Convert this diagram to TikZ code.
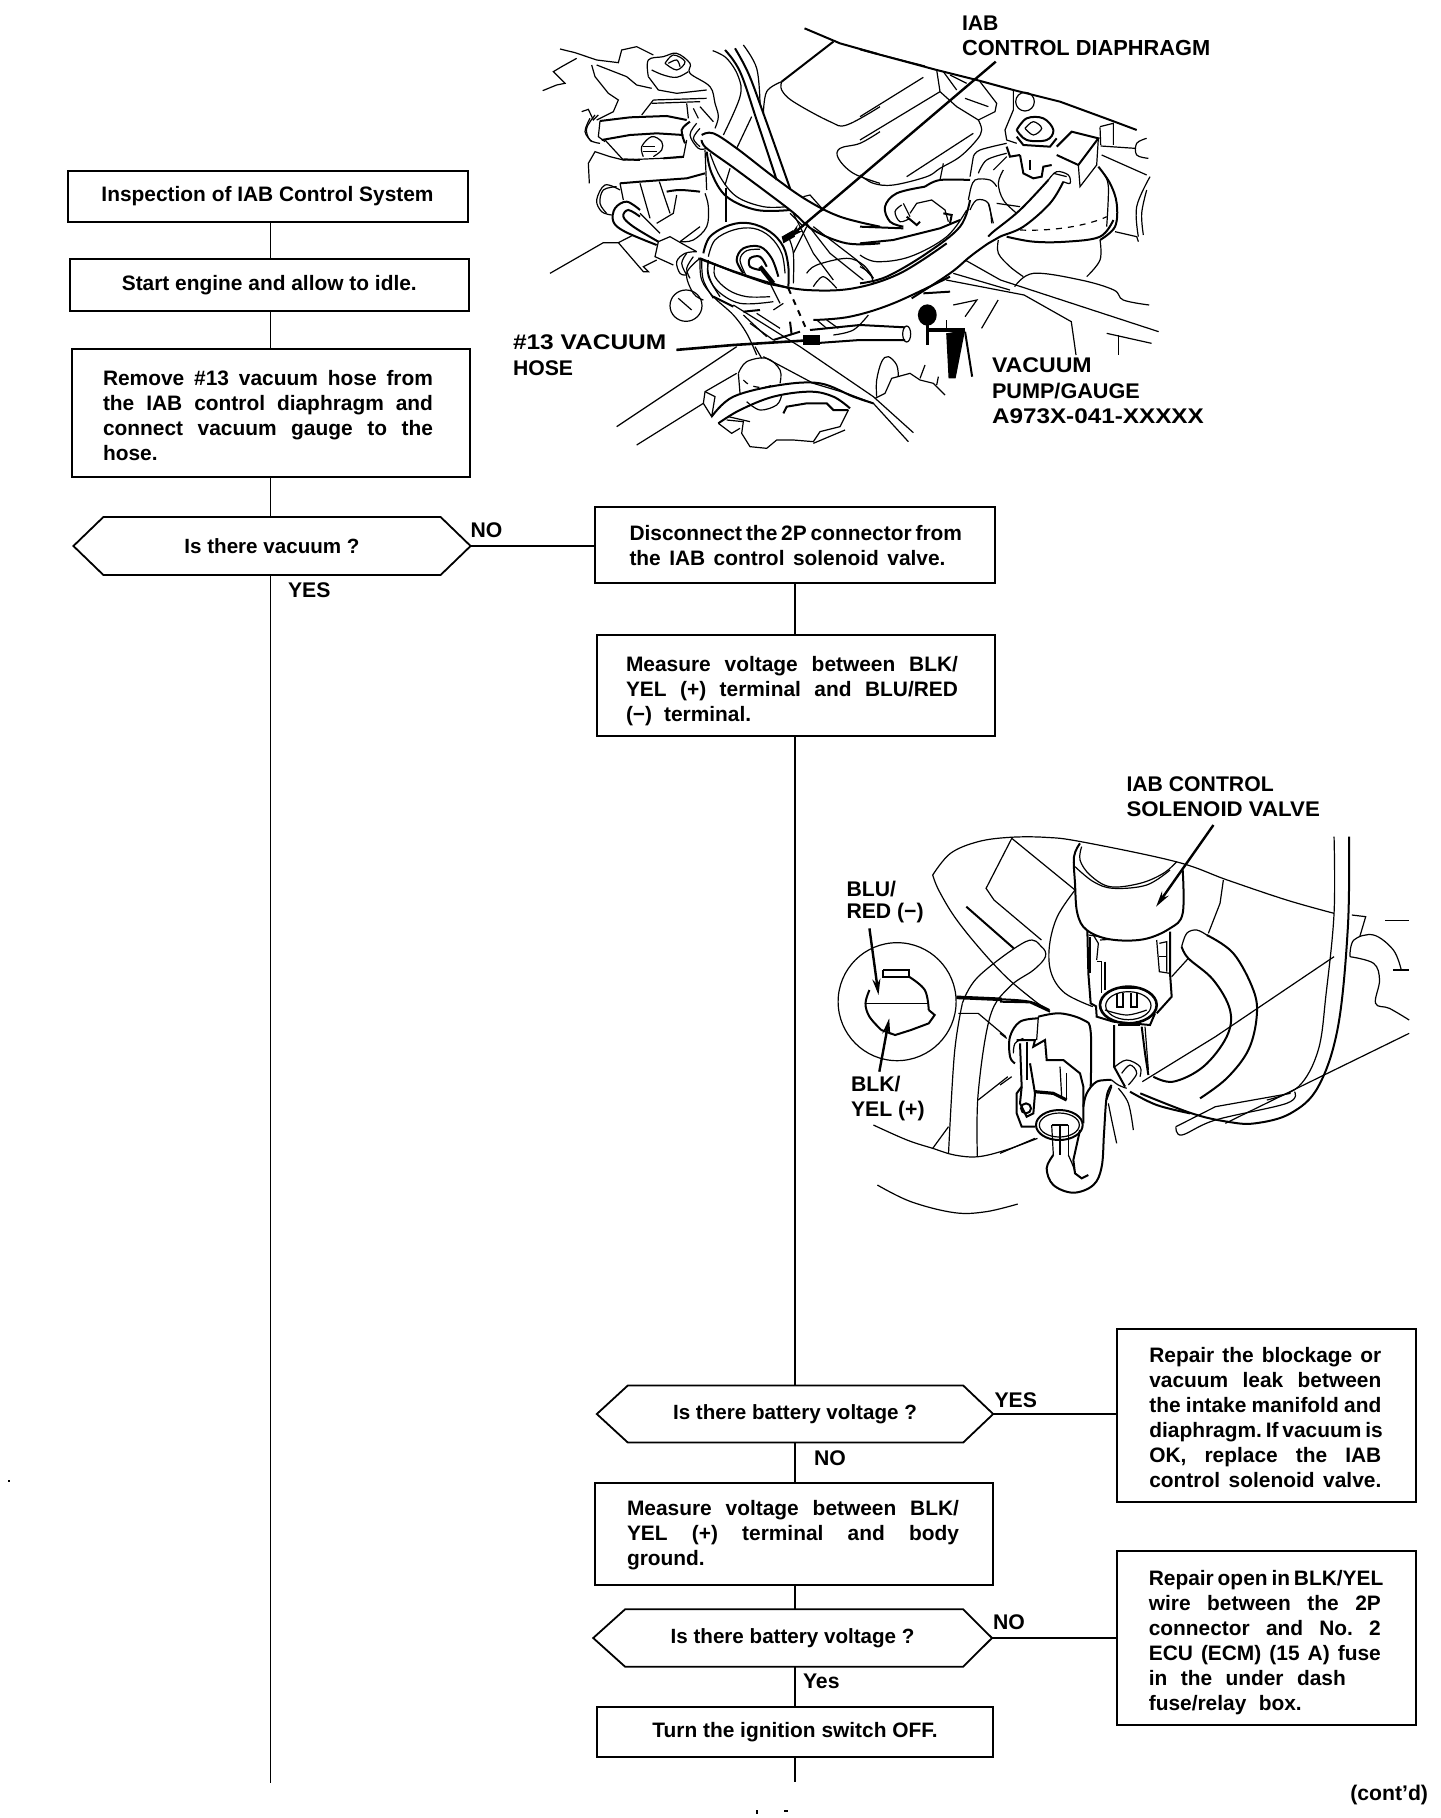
\documentclass[tikz,border=0pt]{standalone}
\usepackage{fontspec}
\usepackage{graphicx}
\setmainfont{Liberation Sans}
\usetikzlibrary{arrows.meta}
\newlength{\jw}
\newcommand{\jl}[1]{\makebox[\jw][s]{\spaceskip=0pt\xspaceskip=0pt\frenchspacing #1}}
\newcommand{\jn}[1]{{\spaceskip=0pt\xspaceskip=0pt\frenchspacing #1}}
\newcommand{\js}[2]{\makebox[#1pt][s]{\spaceskip=0pt\xspaceskip=0pt\frenchspacing #2}}
\newcommand{\cv}[1]{\draw[ln] plot[smooth,tension=0.6] coordinates {#1};}
\newcommand{\cvt}[1]{\draw[lnt] plot[smooth,tension=0.6] coordinates {#1};}
\newcommand{\pl}[1]{\draw[ln] plot[sharp plot] coordinates {#1};}
\newcommand{\plt}[1]{\draw[lnt] plot[sharp plot] coordinates {#1};}
\tikzset{
  box/.style={draw,line width=1pt,inner sep=0pt,outer sep=0pt,font=\fontsize{10.45}{12.5}\selectfont\bfseries},
  jbox/.style={box,align=left,text width=#1},
  qn/.style={inner sep=0pt,outer sep=0pt,font=\fontsize{10.3}{12.5}\selectfont\bfseries},
  lab/.style={inner sep=0pt,outer sep=0pt,anchor=west,font=\fontsize{10.6}{12.5}\selectfont\bfseries},
  con/.style={line width=0.8pt},
  hexl/.style={line width=0.9pt,line join=miter},
  ln/.style={line width=0.6pt},
  lnt/.style={line width=1pt},
  pointer/.style={line width=1.2pt,-{Stealth[length=8pt,width=4pt]}}
}
\begin{document}
\begin{tikzpicture}[x=0.5pt,y=-0.5pt]
\useasboundingbox (0,0) rectangle (1440,1818);
\fill[white] (0,0) rectangle (1440,1818);
\coordinate (spa) at (270.5,0);
\coordinate (spb) at (795,0);
\coordinate (enda) at (270.5,1783);
\coordinate (endb) at (795,1782);

% left column
\node[box,minimum width=200pt,minimum height=25.5pt] (b1) at (267.5,196.5) {Inspection of IAB Control System};
\node[box,minimum width=199.3pt,minimum height=26pt] (b2) at (269.3,285) {\raisebox{-1pt}{Start engine and allow to idle.}};
\setlength{\jw}{165pt}
\node[jbox=168pt,minimum width=199pt,minimum height=63.7pt] (b3) at (271,413) {\rule{0pt}{9.9pt}\jl{Remove \#13 vacuum hose from}\\\jl{the IAB control diaphragm and}\\\jl{connect vacuum gauge to the}\\\jn{hose.}};
\node[qn,minimum width=198.6pt,minimum height=29pt] (q1) at (272,546) {Is there vacuum ?};
\draw[hexl] (q1.west) -- ([xshift=15pt]q1.north west) -- ([xshift=-15pt]q1.north east) -- (q1.east) -- ([xshift=-15pt]q1.south east) -- ([xshift=15pt]q1.south west) -- cycle;
\node[lab] (lno1) at (470.5,530) {NO};
\node[lab] (lyes1) at (288,590) {YES};

% middle column
\setlength{\jw}{165.5pt}
\node[jbox=165.5pt,minimum width=200pt,minimum height=38pt] (d1) at (795,545) {\rule{0pt}{8.6pt}\jl{Disconnect the 2P connector from}\\\js{158}{the IAB control solenoid valve.}};
\setlength{\jw}{166pt}
\node[jbox=170pt,minimum width=199pt,minimum height=50.5pt] (m1) at (796,685.5) {\rule{0pt}{13.4pt}\jl{Measure voltage between BLK/}\\\jl{YEL (+) terminal and BLU/RED}\\\js{62.6}{(−) terminal.}};
\node[qn,minimum width=198.2pt,minimum height=28.5pt] (q2) at (795,1414) {\raisebox{-1pt}{Is there battery voltage ?}};
\draw[hexl] (q2.west) -- ([xshift=15.5pt]q2.north west) -- ([xshift=-15pt]q2.north east) -- (q2.east) -- ([xshift=-15pt]q2.south east) -- ([xshift=15.5pt]q2.south west) -- cycle;
\node[lab] (lyes2) at (994.5,1400) {YES};
\node[lab] (lno2) at (814,1458) {NO};
\node[jbox=167pt,minimum width=199pt,minimum height=51pt] (m2) at (794,1534) {\rule{0pt}{9pt}\jl{Measure voltage between BLK/}\\\jl{YEL (+) terminal and body}\\\jn{ground.}};
\node[qn,minimum width=199.4pt,minimum height=28.8pt] (q3) at (792.6,1638) {\raisebox{-1pt}{Is there battery voltage ?}};
\draw[hexl] (q3.west) -- ([xshift=16pt]q3.north west) -- ([xshift=-14.5pt]q3.north east) -- (q3.east) -- ([xshift=-14.5pt]q3.south east) -- ([xshift=16pt]q3.south west) -- cycle;
\node[lab] (lno3) at (993,1622) {NO};
\node[lab] (lyes3) at (803,1681) {Yes};
\node[box,minimum width=198.2pt,minimum height=25pt] (t1) at (795,1731.7) {\raisebox{-1pt}{Turn the ignition switch OFF.}};

% right column
\setlength{\jw}{116pt}
\node[jbox=117pt,minimum width=149.7pt,minimum height=86.4pt] (r1) at (1266.3,1415.4) {\rule{0pt}{9.9pt}\jl{Repair the blockage or}\\\jl{vacuum leak between}\\\jl{the intake manifold and}\\\jl{diaphragm. If vacuum is}\\\jl{OK, replace the IAB}\\\jl{control solenoid valve.}};
\node[jbox=117.5pt,minimum width=149.7pt,minimum height=87.2pt] (r2) at (1266.3,1638) {\rule{0pt}{12.2pt}\jl{Repair open in BLK/YEL}\\\jl{wire between the 2P}\\\jl{connector and No. 2}\\\jl{ECU (ECM) (15 A) fuse}\\\js{98.5}{in the under dash}\\\js{76.5}{fuse/relay box.}};
\node[inner sep=0pt,outer sep=0pt,anchor=east,font=\fontsize{10.6}{12.5}\selectfont\bfseries] (cd) at (1428,1795) {(cont'd)};

% connectors
\draw[con] (b1.south -| spa) -- (b2.north -| spa);
\draw[con] (b2.south -| spa) -- (b3.north -| spa);
\draw[con] (b3.south -| spa) -- (q1.north -| spa);
\draw[con] (q1.south -| spa) -- (enda);
\draw[con] (q1.east) -- (q1.east -| d1.west);
\draw[con] (d1.south -| spb) -- (m1.north -| spb);
\draw[con] (m1.south -| spb) -- (q2.north -| spb);
\draw[con] (q2.south -| spb) -- (m2.north -| spb);
\draw[con] (m2.south -| spb) -- (q3.north -| spb);
\draw[con] (q3.south -| spb) -- (t1.north -| spb);
\draw[con] (t1.south -| spb) -- (endb);
\draw[con] (q2.east) -- (q2.east -| r1.west);
\draw[con] (q3.east) -- (q3.east -| r2.west);

% labels of drawings
\node[lab] (a1) at (962,23) {IAB};
\node[lab,font=\fontsize{10.9}{12.5}\selectfont\bfseries] (a2) at (962,48) {CONTROL DIAPHRAGM};
\node[lab] (a3) at (513,342.5) {\scalebox{1.155}[1]{\#13 VACUUM}};
\node[lab] (a4) at (513,368) {HOSE};
\node[lab] (a5) at (992,365) {\scalebox{1.09}[1]{VACUUM}};
\node[lab] (a6) at (992,391) {\scalebox{1.02}[1]{PUMP/GAUGE}};
\node[lab] (a7) at (992,416) {\scalebox{1.145}[1]{A973X-041-XXXXX}};
\node[lab] (c1) at (1126.5,784) {IAB CONTROL};
\node[lab] (c2) at (1126.5,809) {\scalebox{1.05}[1]{SOLENOID VALVE}};
\node[lab] (c3) at (846.5,889.5) {BLU/};
\node[lab] (c4) at (846.5,913) {RED (−)};
\node[lab] (c5) at (851,1084) {BLK/};
\node[lab] (c6) at (851,1111) {YEL (+)};

% specks
\fill (8,1480) rectangle (10,1482);
\fill (756,1810) rectangle (758,1814);
\fill (784,1810) rectangle (788,1812);

% ---------- top drawing, left part
\begin{scope}[shift={(530,40)},x=0.16667pt,y=-0.16667pt]
\pl{(90,27)(135,38)(200,60)(265,68)(275,30)(320,20)(370,45)}
\pl{(38,152)(80,135)(105,130)(70,95)(95,80)(140,55)}
\pl{(185,75)(195,110)(235,160)(265,180)(250,215)(200,240)}
\pl{(155,215)(175,208)(190,240)(205,225)}
\pl{(200,75)(290,110)(320,135)(365,145)}
\cv{(355,110)(355,60)(400,50)(440,40)(480,70)(480,100)(540,140)(555,190)(565,230)(555,265)}
\cv{(405,70)(430,45)(465,65)(440,90)(405,70)}
\cv{(415,70)(440,60)(450,80)}
\cv{(365,90)(400,105)(440,112)(475,95)}
\pl{(355,110)(385,150)(440,160)(530,150)}
\pl{(370,180)(530,175)}
\pl{(365,190)(510,185)}
\pl{(370,180)(335,225)}
\pl{(470,190)(475,235)}
\pl{(490,205)(505,235)}
\pl{(510,200)(550,245)}
\plt{(210,243)(300,232)(410,228)(470,240)}
\plt{(215,300)(300,285)(380,280)(460,285)}
\pl{(210,243)(205,290)(225,305)}
\cv{(195,225)(170,265)(180,300)(210,310)}
\cv{(180,235)(165,275)(185,305)}
\pl{(225,300)(280,360)(460,352)(470,300)}
\plt{(280,358)(330,360)}
\plt{(400,355)(460,350)}
\cv{(340,350)(335,320)(365,290)(395,305)(395,330)(370,350)}
\pl{(340,320)(375,320)}
\pl{(340,335)(380,335)}
\pl{(178,430)(175,370)(195,335)(240,350)(280,360)}
\cvt{(480,245)(455,270)(465,310)}
\cv{(500,250)(480,285)(505,325)(530,325)}
\cv{(510,265)(490,295)(510,320)}
% hose from joint
\cvt{(515,285)(550,280)(620,325)(730,410)(830,480)(930,530)(1050,560)}
\cvt{(515,300)(530,325)(620,390)(780,510)(850,570)(950,610)(1050,610)}
\cvt{(530,335)(545,400)(590,470)(680,510)(780,510)}
\cv{(540,340)(570,410)(620,470)(700,500)(770,500)}
\pl{(525,330)(530,450)}
\cv{(525,460)(535,500)(530,560)(490,600)(450,605)}
% tubes at top
\cv{(548,32)(590,55)(625,110)(630,170)(580,285)}
\cvt{(585,30)(630,95)(680,240)(740,420)}
\cvt{(615,25)(655,100)(700,220)(780,445)}
\cv{(640,15)(680,85)(690,190)}
\pl{(665,230)(620,325)}
\pl{(600,385)(585,435)}
\pl{(588,445)(588,545)}
% cover
\plt{(910,5)(755,125)}
\cv{(755,125)(710,155)(700,225)}
\cv{(755,125)(755,150)(790,185)(900,245)(950,255)(1050,200)}
\cv{(1050,275)(990,310)(930,325)(925,355)(970,400)(1050,430)}
\pl{(820,470)(840,465)(880,510)(860,520)}
% bracket and lower left hose
\plt{(270,430)(330,425)(470,415)(525,400)}
\pl{(270,430)(280,480)}
\pl{(330,430)(360,535)}
\pl{(388,425)(420,520)}
\cvt{(410,455)(450,450)(510,455)}
\pl{(440,465)(430,520)(380,550)}
\cv{(270,450)(225,435)(200,480)(215,515)(245,525)}
\cv{(260,440)(220,450)(210,490)(230,520)}
\cvt{(330,510)(290,485)(255,505)(250,545)(285,575)(380,615)}
\cvt{(330,530)(295,510)(280,530)(310,560)(385,605)}
\pl{(330,520)(390,580)}
\pl{(60,700)(220,608)(265,608)(340,695)(355,695)(340,680)(380,660)}
\pl{(265,608)(310,585)}
\pl{(385,605)(420,590)(455,610)(500,635)}
\pl{(385,605)(375,650)(430,675)}
\pl{(450,605)(510,560)}
\cv{(500,635)(465,640)(440,665)(450,700)(470,705)}
\cv{(470,640)(455,670)(470,705)}
\cv{(490,650)(470,685)(480,715)}
\cvt{(505,655)(600,690)(690,720)(780,745)}
% diaphragm
\cvt{(520,640)(540,590)(600,555)(660,550)(720,575)(760,620)(775,680)(775,740)}
\cv{(535,650)(555,600)(610,570)(670,565)(720,590)(755,640)(765,700)}
\cv{(510,655)(470,700)(490,760)(520,780)}
\cv{(535,665)(535,710)(570,770)}
\cv{(515,660)(520,720)(550,775)}
\cvt{(640,700)(620,660)(640,625)(690,620)(725,655)(745,710)}
\cv{(650,710)(630,660)(650,632)(690,628)}
\cvt{(690,690)(660,680)(660,655)(690,650)(710,680)}
\draw[line width=2.2pt] (690,680) -- (730,730);
\fill (755,590) -- (790,570) -- (795,590) -- (760,610) -- cycle;
\cv{(790,640)(830,560)}
\pl{(820,560)(780,520)}
\pl{(790,520)(850,640)(910,720)}
\pl{(830,550)(900,640)(1000,720)}
\pl{(850,560)(980,660)(1030,715)}
\cv{(830,700)(860,675)(950,655)(1000,675)(1030,715)}
\cv{(850,740)(880,710)(920,745)}
\cv{(775,590)(790,640)(790,730)}
\end{scope}

% ---------- top drawing, right part
\begin{scope}[shift={(860,40)},x=0.16667pt,y=-0.16667pt]
\plt{(0,28)(100,55)(230,90)(350,120)(460,150)(600,185)(750,240)(830,270)}
\pl{(230,90)(240,155)(290,200)(355,240)}
\cv{(355,240)(365,270)(350,300)(300,350)(240,385)(200,410)(100,435)(40,430)(0,405)}
\pl{(250,95)(290,150)}
\pl{(270,105)(320,130)}
\pl{(360,125)(410,190)(405,215)(355,240)}
\pl{(315,175)(385,200)}
\pl{(0,230)(190,112)}
\pl{(0,300)(240,155)}
\pl{(140,410)(340,280)}
\draw[ln] (495,185) circle (28);
\pl{(460,150)(460,210)(435,270)(440,300)(470,310)}
\cvt{(470,270)(500,235)(550,235)(580,270)(560,300)(500,300)(470,270)}
\cv{(495,265)(520,245)(545,265)(520,285)(495,265)}
\plt{(470,290)(490,315)(570,320)(590,295)}
\plt{(590,320)(635,275)(715,295)(655,375)(590,345)}
\pl{(655,375)(660,440)(710,375)(715,295)}
\pl{(720,260)(760,250)(760,315)}
\pl{(720,262)(722,315)}
\pl{(722,318)(825,325)}
\cv{(860,295)(830,310)(830,345)(865,355)}
\pl{(725,345)(860,405)}
\cv{(870,410)(830,500)(835,590)}
\cv{(860,450)(845,520)(850,585)}
\pl{(765,575)(830,590)(835,605)}
\plt{(480,345)(490,400)(520,415)(545,410)(550,380)(575,375)}
\pl{(510,360)(510,390)}
\plt{(440,320)(450,350)(480,345)}
\pl{(400,390)(440,350)}
\cvt{(715,380)(750,430)(770,490)(765,560)(720,600)}
\cv{(730,400)(745,440)(740,560)}
\cv{(430,390)(415,430)(430,480)(470,520)}
\pl{(410,490)(480,500)}
\draw[ln,dashed] (480,570) .. controls (600,575) and (700,550) .. (740,530);
\cvt{(440,590)(520,605)(620,605)(720,590)(760,540)}
\cv{(415,600)(415,640)(450,680)(490,710)}
\cv{(720,600)(720,660)(680,710)}
% hoses
\cvt{(565,420)(480,510)(400,575)(385,590)}
\cvt{(610,425)(570,490)(490,560)(420,590)(385,610)(330,650)(270,700)(155,775)}
\cvt{(330,480)(300,560)(200,640)(80,710)(0,730)}
\cv{(330,455)(345,420)(390,420)(410,440)}
\cv{(330,510)(350,480)(385,490)(395,550)}
\pl{(385,490)(400,550)}
\pl{(330,455)(325,480)}
\cv{(565,420)(590,395)(625,405)(630,430)(610,425)}
\cv{(580,400)(620,410)}
% left loop
\cvt{(195,440)(110,460)(75,500)(90,545)(130,560)}
\cv{(125,495)(105,515)(120,545)(150,535)}
\pl{(130,490)(150,530)}
\pl{(150,520)(170,490)(215,480)(255,510)(265,545)}
\plt{(140,530)(170,555)(180,545)}
\plt{(250,520)(275,525)(270,550)}
\cvt{(195,440)(240,420)(330,420)}
\pl{(250,370)(240,420)}
\cv{(340,350)(360,330)(440,310)}
\pl{(340,350)(330,410)}
\cv{(355,400)(380,360)(440,340)}
\plt{(0,560)(130,565)}
\plt{(0,610)(100,600)(240,565)(300,540)}
\cv{(0,645)(50,665)(150,650)(260,590)(320,510)}
\cv{(0,680)(30,700)(40,730)}
\end{scope}

% ---------- top drawing, lower part
\begin{scope}[shift={(600,240)},x=0.16667pt,y=-0.16667pt]
\draw[ln] (258,197) ellipse (48 and 47);
\pl{(235,175)(275,210)}
\cv{(300,60)(305,120)(340,170)(400,225)(440,280)(470,345)}
\plt{(340,170)(400,200)}
\cv{(345,70)(345,110)(385,150)(440,170)(510,170)}
\cv{(325,60)(325,100)(350,150)(420,190)(520,185)}
\plt{(300,55)(400,95)(500,130)}
\draw[lnt,dashed] (565,145) -- (620,270);
\pl{(510,130)(540,190)}
\cvt{(500,130)(620,150)(760,145)(900,100)(1040,10)}
% long diagonals
\pl{(400,195)(600,320)(820,470)(940,578)}
\pl{(490,350)(640,430)(740,460)(820,490)(925,605)}
\cvt{(335,530)(400,470)(540,435)(660,430)(760,470)(820,490)}
\cvt{(355,550)(420,510)(520,470)(630,455)(700,470)(750,505)}
\pl{(50,560)(410,320)}
\pl{(110,615)(310,490)(315,455)(410,400)}
\pl{(310,490)(335,530)(345,470)(315,455)}
\cv{(415,400)(440,365)(500,355)(540,390)(540,430)}
\pl{(415,400)(420,460)}
\draw[ln,dashed] (430,420) .. controls (450,445) and (500,450) .. (525,430);
\pl{(465,320)(485,355)}
\cv{(440,485)(480,510)(530,495)(545,465)}
\pl{(380,540)(430,545)(425,580)(450,620)(500,625)(530,600)(580,600)(640,605)(660,575)(720,560)(745,510)}
\plt{(550,520)(560,500)(620,490)(680,490)(700,510)(745,510)}
\pl{(355,550)(395,580)(420,565)}
\pl{(385,530)(450,545)}
\pl{(640,610)(735,570)}
\cv{(830,470)(830,420)(845,365)(865,350)(890,375)(895,410)}
\pl{(825,475)(855,460)(875,415)(930,400)(960,420)(1000,430)(1035,465)}
\pl{(960,415)(975,375)}
\pl{(1010,435)(1015,410)}
% vacuum hose
\plt{(630,270)(780,255)(915,262)}
\plt{(640,310)(780,300)(915,300)}
\draw[ln] (920,282) ellipse (12 and 24);
\node[inner sep=0pt] (hl) at (225,330) {};
\draw[line width=1.3pt] (hl) -- (400,315) -- (640,300);
\fill (610,285) rectangle (660,315);
\plt{(570,245)(575,285)}
\plt{(520,300)(600,275)}
\pl{(430,225)(500,290)}
\pl{(450,250)(520,300)}
\pl{(470,220)(540,265)}
\plt{(430,215)(480,210)}
\pl{(520,210)(550,190)}
\pl{(650,240)(680,265)}
\pl{(680,240)(715,265)}
\cv{(700,285)(760,270)(805,225)}
\cvt{(640,240)(750,230)(880,190)(1050,110)}
\plt{(970,160)(1050,155)}
\end{scope}

% ---------- pump, pointer and lines at lower right of top drawing
\begin{scope}[shift={(500,0)},x=0.23607pt,y=-0.16667pt]
\plt{(645,85)(720,130)(800,162)}
\pl{(800,162)(900,198)}
\fill (905,945) ellipse (20 and 32);
\draw[line width=1.6pt] (905,975) -- (905,1035);
\draw[line width=1.8pt] (905,990) -- (985,990);
\fill (945,1000) -- (985,990) -- (965,1135) -- (950,1135) -- cycle;
\draw[line width=1pt] (985,995) -- (1000,1130);
\pl{(945,960)(945,990)}
\draw[pointer] (1050,185) -- (610,715);
\pl{(985,780)(1060,840)(1395,995)}
\pl{(960,820)(1080,870)}
\pl{(945,840)(1110,885)(1210,965)(1220,1065)}
\cv{(1090,860)(1130,820)(1230,840)(1300,870)(1320,900)(1375,915)}
\pl{(1055,900)(1020,985)}
\pl{(960,915)(1010,900)(985,950)}
\pl{(1285,1000)(1380,1030)}
\pl{(1310,1005)(1310,1065)}
\end{scope}

% ---------- solenoid drawing, outer lines
\begin{scope}[shift={(820,760)},x=0.19771pt,y=-0.16667pt]
\cv{(285,345)(330,280)(400,245)(480,232)(570,232)(660,245)(900,305)(1030,360)(1180,420)(1300,460)}
\cv{(285,345)(300,390)(340,470)(400,560)(470,650)(540,720)(570,745)}
\pl{(485,235)(420,385)(440,420)(560,540)}
\pl{(485,235)(645,390)}
\cv{(645,390)(600,470)(580,560)(585,640)(620,700)(690,740)}
\plt{(370,440)(490,565)}
\cv{(360,730)(400,650)(520,545)(560,560)(570,590)(540,630)(480,680)(430,770)(400,1000)(398,1190)}
\cv{(360,730)(340,880)(325,1180)}
\pl{(325,1100)(285,1165)}
\cv{(135,1095)(220,1140)(285,1165)(340,1185)(400,1190)(470,1170)(550,1135)}
\cv{(145,1275)(230,1325)(340,1358)(420,1355)(500,1332)}
\draw[line width=1.8pt] (345,712) -- (460,718);
\cvt{(460,718)(530,725)(580,750)}
\pl{(350,760)(400,760)(470,830)}
\pl{(400,1020)(475,950)}
\node[draw,circle,line width=0.6pt,minimum size=59pt,inner sep=0pt] (zoomc) at (195,725) {};
\cv{(1300,230)(1300,460)(1280,700)(1260,870)(1210,980)(1130,1020)}
\cvt{(1338,230)(1335,500)(1310,800)(1260,980)(1190,1060)(1100,1090)(1030,1085)(940,1060)(810,1000)}
\pl{(815,965)(1000,830)(1300,590)}
\pl{(1025,1090)(1490,820)}
\cv{(900,1100)(915,1125)(1000,1080)(1180,1030)(1200,995)}
\pl{(900,1100)(1000,1040)(1190,1000)}
\pl{(1345,465)(1380,470)(1365,530)}
\pl{(1430,482)(1490,482)}
\cv{(1340,590)(1350,540)(1400,525)(1450,570)(1470,630)}
\cv{(1340,590)(1400,610)(1415,660)(1405,730)(1440,745)(1490,780)}
\plt{(1450,630)(1490,630)}
\draw[pointer] (995,195) -- (850,440);
\draw[pointer] (125,505) -- (148,705);
\draw[pointer] (150,935) -- (175,775);
\plt{(160,630)(225,630)(225,650)(160,650)(160,630)}
\cvt{(225,650)(265,690)(275,750)}
\plt{(275,750)(290,765)(275,790)(230,810)(190,825)(155,810)}
\cvt{(155,810)(125,770)(115,730)(125,690)}
\pl{(115,730)(270,730)}
\end{scope}

% ---------- solenoid drawing, centre
\begin{scope}[shift={(1000,840)},x=0.16667pt,y=-0.16667pt]
\cvt{(240,10)(222,50)(225,130)(232,220)(260,270)(330,298)(430,298)(510,265)(548,220)(548,90)}
\cv{(245,20)(240,60)(270,105)(330,140)(420,130)(490,100)(530,65)}
\cv{(225,80)(280,125)(340,145)(440,135)(510,90)}
\plt{(262,270)(265,400)(272,490)(290,500)}
\pl{(280,285)(295,310)(290,360)}
\plt{(270,290)(270,400)}
\pl{(290,365)(305,365)(305,460)}
\pl{(315,365)(315,450)}
\pl{(265,285)(300,290)}
\plt{(510,275)(510,400)(515,470)(470,520)}
\pl{(470,300)(478,395)(510,400)}
\pl{(478,310)(500,305)(500,395)}
\pl{(478,350)(500,350)}
\pl{(300,300)(330,298)}
\draw[line width=1.3pt] (385,495) ellipse (85 and 55);
\draw[ln] (385,497) ellipse (68 and 42);
\plt{(355,445)(420,445)}
\plt{(352,460)(352,500)(368,500)(368,460)}
\plt{(393,460)(393,500)(410,500)(410,460)}
\cv{(315,510)(380,525)(440,510)}
\plt{(288,500)(290,530)(340,545)(450,555)(465,520)}
\plt{(355,555)(420,555)}
\plt{(342,555)(342,680)(375,740)}
\plt{(425,560)(435,640)(445,705)}
\pl{(435,560)(445,690)}
\cv{(345,680)(380,660)(420,680)(420,710)}
\cv{(365,700)(390,675)(410,700)(385,735)}
\cvt{(620,285)(700,340)(760,450)(770,530)(745,630)(680,715)(600,775)}
\cvt{(545,320)(565,355)(640,420)(690,510)(680,590)(610,680)(520,725)(460,710)}
\cv{(545,320)(560,280)(590,270)(620,285)}
\pl{(670,120)(660,190)(625,280)}
\pl{(565,355)(515,410)}
\cvt{(390,755)(470,795)(570,820)}
\plt{(0,485)(90,487)(150,515)}
% plug
\cvt{(115,530)(180,520)(250,540)(272,575)(272,740)}
\pl{(115,530)(110,600)}
\cvt{(115,535)(60,545)(30,590)(30,650)(45,670)}
\plt{(50,600)(105,600)(100,620)(135,600)(140,660)(190,660)(240,700)(250,740)(250,850)}
\cv{(40,640)(45,610)(70,595)}
\plt{(60,610)(65,740)(50,760)(50,820)(65,860)(105,860)}
\plt{(80,605)(80,720)}
\plt{(90,670)(105,760)(100,820)(80,830)(60,790)(65,740)}
\draw[lnt] (78,805) circle (15);
\draw[line width=1.6pt] (105,755) -- (160,760) -- (200,780);
\pl{(180,680)(185,770)}
\pl{(200,700)(200,780)}
\draw[lnt] (178,855) ellipse (70 and 45);
\draw[ln] (178,855) ellipse (60 and 36);
\pl{(155,855)(160,945)}
\pl{(205,855)(205,945)}
\pl{(155,855)(205,855)}
\pl{(180,855)(180,945)}
\plt{(240,870)(220,960)(225,1000)(245,1015)(265,1005)}
\cvt{(160,945)(140,985)(160,1035)(220,1058)(280,1035)(305,980)(312,880)(320,770)(335,735)}
\cvt{(335,720)(290,725)(260,760)(250,800)}
\cv{(205,945)(220,980)(225,1000)}
\cv{(355,745)(385,790)(400,870)}
\cv{(325,790)(335,840)(350,910)}
\cv{(335,740)(320,780)}
\cv{(335,720)(355,735)(380,745)}
\pl{(0,735)(35,710)}
\pl{(0,940)(105,895)}
\pl{(0,580)(20,595)}
\end{scope}
\end{tikzpicture}
\end{document}
